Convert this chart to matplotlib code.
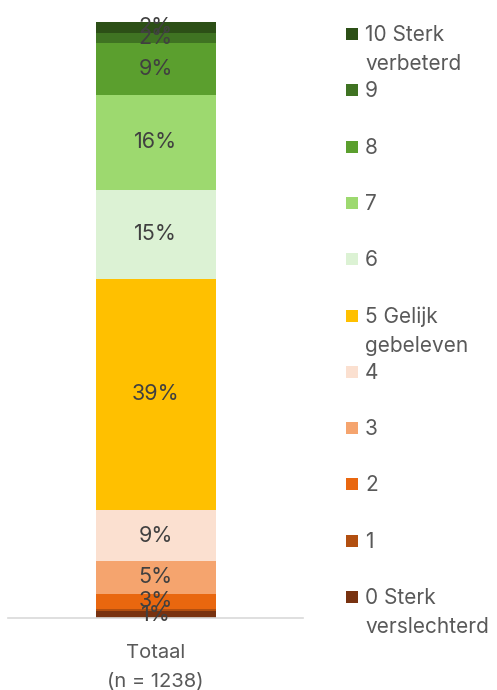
import matplotlib
matplotlib.use("Agg")
import matplotlib.pyplot as plt
from matplotlib.patches import Rectangle

plt.rcParams['font.family'] = ['Inter', 'DejaVu Sans']

categories = ["0 Sterk\nverslechterd", "1", "2", "3", "4", "5 Gelijk\ngebeleven",
              "6", "7", "8", "9", "10 Sterk\nverbeterd"]
values = [1.1, 0.4, 2.6, 5.4, 8.6, 38.8, 14.9, 15.9, 8.7, 1.7, 1.8]
colors = ["#783210", "#b24f10", "#e9670f", "#f5a46e", "#fbe0d0", "#ffc000",
          "#dcf2d4", "#9dd96f", "#5b9f2e", "#3f7322", "#2c4f16"]
group = "Totaal\n(n = 1238)"

W, H = 497, 690
fig = plt.figure(figsize=(W / 100, H / 100), dpi=100)
ax = fig.add_axes([8 / W, (H - 618) / H, 295 / W, 596 / H])

bottom = 0
for cat, v, c in zip(categories, values, colors):
    ax.bar(0, v, bottom=bottom, width=120 / 295, color=c, linewidth=0)
    if v >= 1:
        ax.text(0, bottom + v / 2, f"{v:.0f}%", ha='center', va='center',
                fontsize=15.5, color='#404040')
    bottom += v

ax.set_xlim(-0.5, 0.5)
ax.set_ylim(0, sum(values))
for s in ['top', 'right', 'left']:
    ax.spines[s].set_visible(False)
ax.spines['bottom'].set_color('#d9d9d9')
ax.spines['bottom'].set_linewidth(1.2)
ax.set_yticks([])
ax.set_xticks([0])
ax.set_xticklabels([group], fontsize=14.5, color='#595959', linespacing=1.75)
ax.tick_params(axis='x', length=0, pad=19)

# legend (manual, top to bottom)
y0 = 34
step = 56.3
for i, (cat, c) in enumerate(zip(categories[::-1], colors[::-1])):
    yc = y0 + i * step
    fig.patches.append(Rectangle((346 / W, (H - yc - 6) / H), 12 / W, 12 / H,
                                 transform=fig.transFigure, color=c, lw=0))
    fig.text(365 / W, (H - yc + 9) / H, cat, ha='left', va='top',
             fontsize=15, color='#595959', linespacing=1.58)

fig.savefig("out.png", dpi=100)
